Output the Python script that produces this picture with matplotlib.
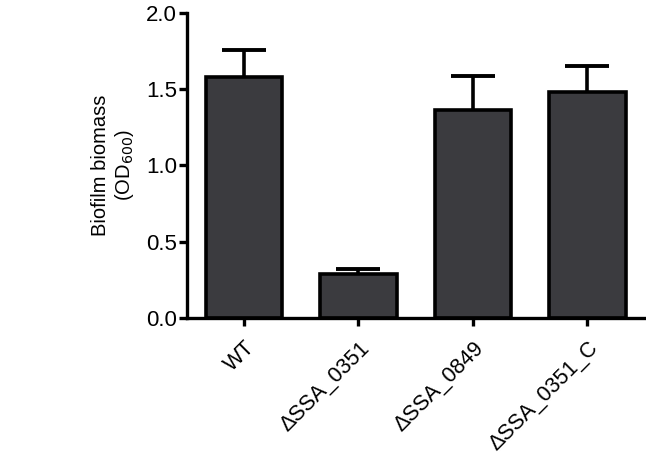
import matplotlib
matplotlib.use("Agg")
import matplotlib.pyplot as plt
import numpy as np

plt.rcParams['font.family'] = ['Liberation Sans', 'DejaVu Sans']

# strains and biofilm values (OD600)
strains = ['WT', '\u0394SSA_0351', '\u0394SSA_0849', '\u0394SSA_0351_C']
biomass = [1.58, 0.29, 1.36, 1.48]
err_up = [0.175, 0.03, 0.225, 0.17]

fig = plt.figure(figsize=(6.46, 4.57), dpi=100)
ax = fig.add_axes([0.289, 0.304, 0.709, 0.668])

x = np.arange(len(strains))
# error bars sit behind the bars, only the top part shows
ax.errorbar(x, biomass, yerr=[biomass, err_up], fmt='none', ecolor='black',
            elinewidth=2.6, capsize=16, capthick=2.8, zorder=1)
ax.bar(x, biomass, width=0.67, color='#3b3b3f', edgecolor='black',
       linewidth=2.6, zorder=2)

ax.set_xlim(-0.5, 3.5)
ax.set_ylim(0, 2.0)
ax.set_yticks([0.0, 0.5, 1.0, 1.5, 2.0])
ax.set_yticklabels(['0.0', '0.5', '1.0', '1.5', '2.0'])
ax.set_xticks(x)
ax.set_xticklabels(strains, rotation=45, ha='right', rotation_mode='anchor')

for s in ['top', 'right']:
    ax.spines[s].set_visible(False)
for s in ['left', 'bottom']:
    ax.spines[s].set_linewidth(2.4)

ax.tick_params(axis='y', direction='out', length=6, width=2.4, labelsize=16, pad=1)
ax.tick_params(axis='x', direction='out', length=6, width=2.4, labelsize=15.5, pad=8)

ax.set_ylabel('Biofilm biomass\n(OD$_{600}$)', fontsize=14.5, linespacing=1.2, labelpad=7)

fig.savefig('out.png', dpi=100)
